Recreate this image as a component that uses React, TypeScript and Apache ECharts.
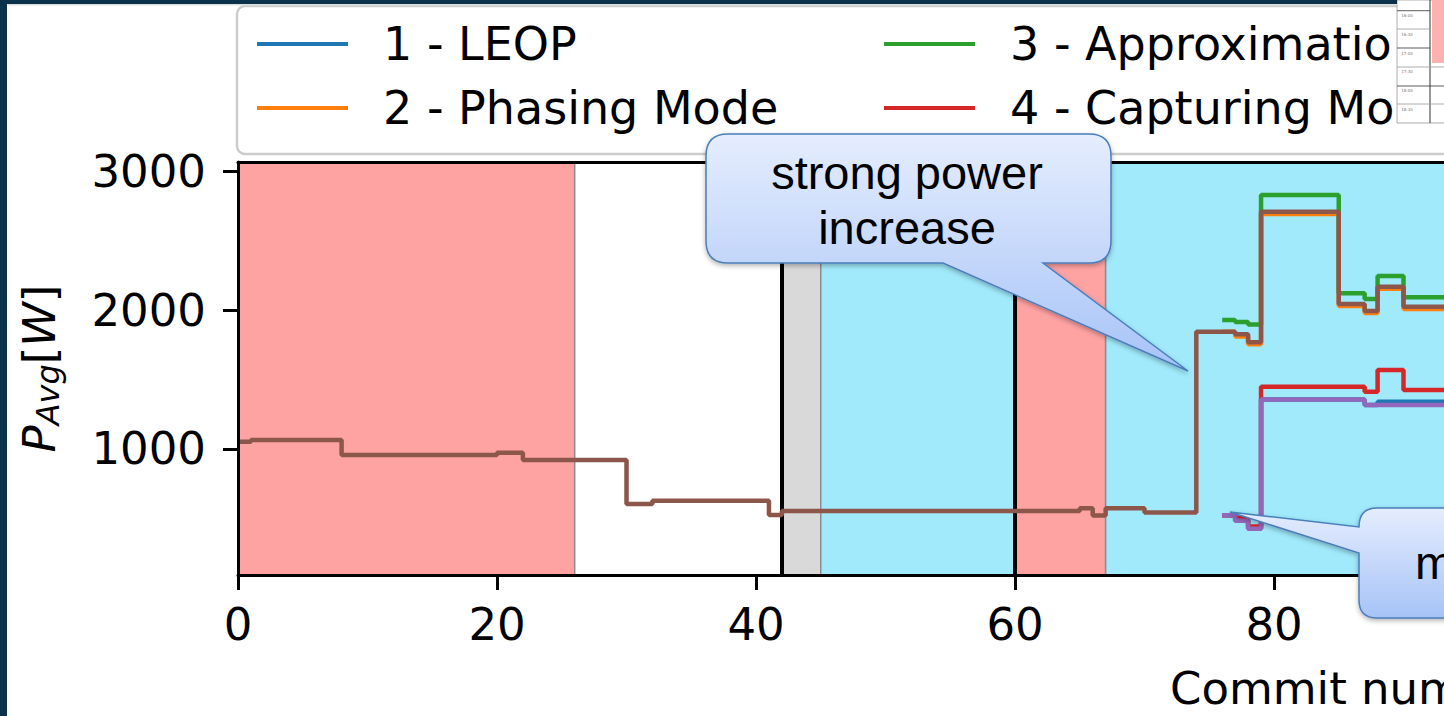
import React, { useEffect, useRef } from "react";
import * as echarts from "echarts";

// ---- data ----
const commits = [0, 1, 8, 20, 22, 30, 32, 41, 42, 65, 66, 67, 70, 74, 76, 77, 78, 79, 85, 87, 88, 90, 100];
const N = null;
const leop = [N, N, N, N, N, N, N, N, N, N, N, N, N, N, 522, 483, 425, 1357, 1357, 1317, 1340, 1340, 1340];
const phasing = [N, N, N, N, N, N, N, N, N, N, N, N, N, N, 1846, 1812, 1755, 2695, 2031, 1980, 2155, 2010, 2010];
const approximation = [N, N, N, N, N, N, N, N, N, N, N, N, N, N, 1930, 1916, 1897, 2832, 2123, 2082, 2248, 2094, 2094];
const capturing = [N, N, N, N, N, N, N, N, N, N, N, N, N, N, 522, 504, 440, 1449, 1449, 1413, 1570, 1426, 1426];
const series5 = [N, N, N, N, N, N, N, N, N, N, N, N, N, N, 522, 483, 425, 1357, 1357, 1317, 1317, 1317, 1317];
const series6 = [1052, 1065, 957, 973, 921, 604, 626, 523, 552, 573, 520, 573, 542, 1846, 1846, 1827, 1770, 2711, 2046, 1995, 2171, 2026, 2026];

const seriesNames = ["1 - LEOP", "2 - Phasing Mode", "3 - Approximation Mode", "4 - Capturing Mode", "5", "6"];
const seriesColors = ["#1f77b4", "#ff7f0e", "#2ca02c", "#d62728", "#9467bd", "#8c564b"];
const seriesValues = [leop, phasing, approximation, capturing, series5, series6];

// phases (start, end, colour)
const phaseStarts = [0, 42, 45, 60, 67];
const phaseEnds = [26, 45, 60, 67, 100];
const phaseColors = ["#ffa2a2", "#d9d9d9", "#a0eafc", "#ffa2a2", "#a0eafc"];
const phaseBoundaries = [42, 60];

const xTicks = [0, 20, 40, 60, 80];
const yTicks = [1000, 2000, 3000];
const tableTimes = ["16:00", "16:30", "17:00", "17:30", "18:00", "18:30"];

const calloutA =
  "M 728 134 H 1089 Q 1111 134 1111 156 V 241 Q 1111 263 1089 263 H 1043 L 1188 371 L 943 263 H 728 Q 706 263 706 241 V 156 Q 706 134 728 134 Z";
const calloutB =
  "M 1377 508 H 1600 V 618 H 1377 Q 1359 618 1359 600 V 553 L 1230 512 L 1359 527 Q 1359 508 1377 508 Z";

export default function App() {
  const ref = useRef<HTMLDivElement>(null);
  useEffect(() => {
    if (!ref.current) return;
    echarts.graphic.registerShape("calloutA", echarts.graphic.extendPath(calloutA, {}));
    echarts.graphic.registerShape("calloutB", echarts.graphic.extendPath(calloutB, {}));
    const chart = echarts.init(ref.current, null, { renderer: "svg" });

    const font = "DejaVu Sans";
    const axisLineStyle = { color: "#000", width: 3 };

    const dataSeries = seriesValues.map((vals, i) => ({
      type: "line",
      name: seriesNames[i],
      step: "end",
      symbol: "none",
      connectNulls: false,
      z: 5,
      color: seriesColors[i],
      itemStyle: { color: seriesColors[i] },
      lineStyle: { color: seriesColors[i], width: 4.5 },
      data: commits.map((c, j) => [c, vals[j]]),
    }));

    const timeEls: any[] = tableTimes.map((t, k) => ({
      type: "text",
      z: 62,
      style: { text: t, x: 1407, y: 15.7 + k * 18.7, fontSize: 4, fill: "#777", textAlign: "center", textVerticalAlign: "middle", fontFamily: font },
    }));
    const hLines = [
      [10.7, "#333", 1430],
      [29, "#999", 1430],
      [48, "#333", 1430],
      [67, "#999", 1444],
      [86, "#333", 1444],
      [104, "#999", 1444],
    ].map(([y, c, x2]) => ({
      type: "line",
      z: 61,
      shape: { x1: 1397, y1: y, x2: x2, y2: y },
      style: { stroke: c, lineWidth: 0.8 },
    }));

    const calloutStyle = (y1: number, y2: number) => ({
      fill: {
        type: "linear",
        x: 0,
        y: y1,
        x2: 0,
        y2: y2,
        global: true,
        colorStops: [
          { offset: 0, color: "#e5edfe" },
          { offset: 1, color: "#a6c3f7" },
        ],
      },
      stroke: "#4a7ebb",
      lineWidth: 1.5,
      shadowBlur: 5,
      shadowColor: "rgba(0,0,0,0.3)",
      shadowOffsetY: 2,
    });

    const legendText = (w: number) => ({
      color: "#000",
      fontSize: 46,
      fontFamily: font,
      lineHeight: 50,
      padding: [0, 0, 0, 30],
      width: w,
      overflow: "truncate",
      ellipsis: "",
    });

    chart.setOption({
      animation: false,
      textStyle: { fontFamily: font },
      grid: { left: 238, top: 162, width: 1295, height: 413, outerBoundsMode: "none", containLabel: false },
      xAxis: [
        {
          type: "value",
          min: 0,
          max: 100,
          position: "bottom",
          z: 10,
          axisLine: { show: true, onZero: false, lineStyle: axisLineStyle },
          axisTick: { show: true, length: 15, lineStyle: axisLineStyle, customValues: xTicks },
          axisLabel: { color: "#000", fontSize: 45, lineHeight: 45, margin: 27, fontFamily: font, customValues: xTicks, formatter: (v: number) => String(v) },
          splitLine: { show: false },
        },
        {
          type: "value",
          min: 0,
          max: 100,
          position: "top",
          z: 10,
          axisLine: { show: true, onZero: false, lineStyle: axisLineStyle },
          axisTick: { show: false },
          axisLabel: { show: false },
          splitLine: { show: false },
        },
      ],
      yAxis: {
        type: "value",
        min: 91,
        max: 3070,
        z: 10,
        axisLine: { show: true, onZero: false, lineStyle: axisLineStyle },
        axisTick: { show: true, length: 15, lineStyle: axisLineStyle, customValues: yTicks },
        axisLabel: { color: "#000", fontSize: 45, margin: 32, fontFamily: font, customValues: yTicks, formatter: (v: number) => String(v) },
        splitLine: { show: false },
        name: "{p|P}{s|Avg}{n|[}{p|W}{n|]}",
        nameLocation: "middle",
        nameGap: 174,
        nameRotate: 90,
        nameTextStyle: {
          color: "#000",
          fontFamily: font,
          fontSize: 45,
          rich: {
            p: { fontStyle: "italic", fontSize: 45, fontFamily: font, lineHeight: 50, color: "#000" },
            s: { fontStyle: "italic", fontSize: 32, fontFamily: font, lineHeight: 20, verticalAlign: "bottom", color: "#000" },
            n: { fontSize: 45, fontFamily: font, lineHeight: 50, color: "#000" },
          },
        },
      },
      legend: [
        {
          data: seriesNames.slice(0, 2),
          orient: "vertical",
          left: 257,
          top: 19,
          padding: 0,
          icon: "rect",
          itemWidth: 91,
          itemHeight: 4,
          itemGap: 14,
          textStyle: legendText(500),
        },
        {
          data: seriesNames.slice(2, 4),
          orient: "vertical",
          left: 884,
          top: 19,
          padding: 0,
          icon: "rect",
          itemWidth: 91,
          itemHeight: 4,
          itemGap: 14,
          textStyle: legendText(392),
        },
      ],
      series: [
        {
          type: "line",
          name: "phases",
          data: [[0, 1000]],
          symbol: "none",
          lineStyle: { opacity: 0 },
          silent: true,
          z: 1,
          markArea: {
            silent: true,
            itemStyle: { borderColor: "#8c8c8c", borderWidth: 1.5 },
            data: phaseStarts.map((s, i) => [
              { xAxis: s, itemStyle: { color: phaseColors[i], borderColor: "#8c8c8c", borderWidth: 1.5 } },
              { xAxis: phaseEnds[i] },
            ]),
          },
        },
        {
          type: "line",
          name: "boundaries",
          data: [[0, 1000]],
          symbol: "none",
          lineStyle: { opacity: 0 },
          silent: true,
          z: 3,
          markLine: {
            silent: true,
            symbol: ["none", "none"],
            label: { show: false },
            lineStyle: { color: "#000", width: 4, type: "solid" },
            data: phaseBoundaries.map((b) => ({ xAxis: b })),
          },
        },
        ...dataSeries,
      ],
      graphic: [
        // legend frame
        {
          type: "rect",
          z: 0,
          shape: { x: 237, y: 6, width: 1400, height: 148, r: 8 },
          style: { fill: "#fff", stroke: "#cccccc", lineWidth: 2.5 },
        },
        // x axis title
        {
          type: "text",
          z: 20,
          style: { text: "Commit number", x: 1170, y: 688, fontSize: 45, fontFamily: font, fill: "#000", textAlign: "left", textVerticalAlign: "middle" },
        },
        // callouts
        { type: "calloutA", z: 50, x: 0, y: 0, style: calloutStyle(134, 371) },
        {
          type: "text",
          z: 51,
          style: {
            text: "strong power\nincrease",
            x: 907,
            y: 199.5,
            textAlign: "center",
            textVerticalAlign: "middle",
            fontSize: 47,
            lineHeight: 55,
            fontFamily: "Liberation Sans",
            fill: "#000",
          },
        },
        { type: "calloutB", z: 50, x: 0, y: 0, style: calloutStyle(508, 618) },
        {
          type: "text",
          z: 51,
          style: { text: "m", x: 1415, y: 562, textAlign: "left", textVerticalAlign: "middle", fontSize: 47, fontFamily: "Liberation Sans", fill: "#000" },
        },
        // embedded table picture (top right)
        {
          type: "rect",
          z: 60,
          shape: { x: 1397, y: 0, width: 50, height: 123 },
          style: { fill: "#fff", stroke: "#999", lineWidth: 0.8 },
        },
        {
          type: "rect",
          z: 60,
          shape: { x: 1432, y: 0, width: 14, height: 63 },
          style: { fill: "#ffb0b0" },
        },
        {
          type: "line",
          z: 61,
          shape: { x1: 1430, y1: 0, x2: 1430, y2: 123 },
          style: { stroke: "#333", lineWidth: 1 },
        },
        ...hLines,
        ...timeEls,
        // slide frame
        { type: "rect", z: 70, shape: { x: 0, y: 0, width: 1397, height: 4 }, style: { fill: "#0b324c" } },
        { type: "rect", z: 69, shape: { x: 7, y: 4, width: 1390, height: 1.5 }, style: { fill: "#dedede" } },
        { type: "rect", z: 70, shape: { x: 0, y: 0, width: 7, height: 716 }, style: { fill: "#0b324c" } },
      ],
    });
    return () => chart.dispose();
  }, []);

  return (
    <div style={{ position: "fixed", left: 0, top: 0, width: 1444, height: 716, overflow: "hidden", background: "#fff" }}>
      <div ref={ref} style={{ width: 1540, height: 716 }} />
    </div>
  );
}
